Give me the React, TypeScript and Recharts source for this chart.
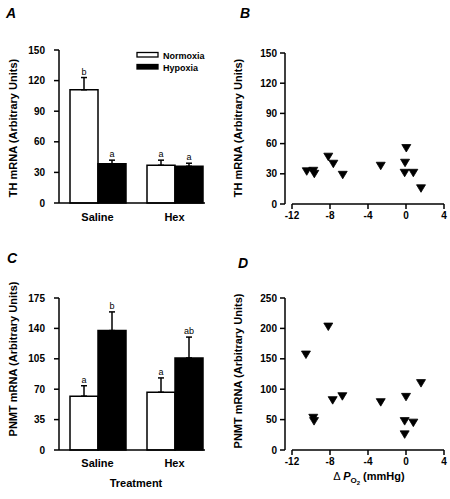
import React from 'react';
import {
  BarChart, Bar, XAxis, YAxis, ErrorBar, LabelList, Legend,
  ScatterChart, Scatter, ReferenceLine, Customized, Label,
} from 'recharts';

// ---------- data ----------
const treatments = ['Saline', 'Hex'];
const seriesNames = ['Normoxia', 'Hypoxia'];

const thNormoxia = [111, 37];
const thNormoxiaErr = [12, 5];
const thNormoxiaSig = ['b', 'a'];
const thHypoxia = [38.5, 36];
const thHypoxiaErr = [3.5, 3];
const thHypoxiaSig = ['a', 'a'];

const pnmtNormoxia = [62, 66.5];
const pnmtNormoxiaErr = [12, 16.5];
const pnmtNormoxiaSig = ['a', 'a'];
const pnmtHypoxia = [137.5, 106];
const pnmtHypoxiaErr = [21.5, 24];
const pnmtHypoxiaSig = ['b', 'ab'];

const thDeltaPO2 = [-10.45, -9.76, -9.65, -8.18, -7.65, -6.66, -2.66, 0.03, -0.1, -0.14, 0.77, 1.58];
const thScatter = [32.5, 33, 30, 47, 40, 29, 38, 55.6, 41, 31, 31, 15.6];

const pnmtDeltaPO2 = [-10.53, -9.76, -9.68, -8.18, -7.72, -6.7, -2.66, 0.0, -0.14, 0.77, -0.14, 1.58];
const pnmtScatter = [157, 53, 47.5, 203, 82, 88.5, 78.7, 87.4, 47.5, 45, 25.7, 110];

const thTicks = [0, 30, 60, 90, 120, 150];
const pnmtTicks = [0, 35, 70, 105, 140, 175];
const pnmtScatterTicks = [0, 50, 100, 150, 200, 250];
const deltaTicks = [-12, -8, -4, 0, 4];

// ---------- tables ----------
const thData = treatments.map((t, i) => ({
  treatment: t,
  Normoxia: thNormoxia[i],
  nErr: [0, thNormoxiaErr[i]],
  nSig: thNormoxiaSig[i],
  Hypoxia: thHypoxia[i],
  hErr: [0, thHypoxiaErr[i]],
  hSig: thHypoxiaSig[i],
}));

const pnmtData = treatments.map((t, i) => ({
  treatment: t,
  Normoxia: pnmtNormoxia[i],
  nErr: [0, pnmtNormoxiaErr[i]],
  nSig: pnmtNormoxiaSig[i],
  Hypoxia: pnmtHypoxia[i],
  hErr: [0, pnmtHypoxiaErr[i]],
  hSig: pnmtHypoxiaSig[i],
}));

const thPoints = thDeltaPO2.map((x, i) => ({ x, y: thScatter[i] }));
const pnmtPoints = pnmtDeltaPO2.map((x, i) => ({ x, y: pnmtScatter[i] }));

// ---------- styling helpers ----------
const FONT = '"Liberation Sans", Arial, Helvetica, sans-serif';
const tickStyle = { fontSize: 10, fontWeight: 700, fill: '#000', fontFamily: FONT };
const catTickStyle = { fontSize: 11, fontWeight: 700, fill: '#000', fontFamily: FONT };
const axisLine = { stroke: '#000', strokeWidth: 1.5 };

const sigLabel = (vals: number[], errs: number[]) => (props: any) => {
  const { x, y, width, height, index, value } = props;
  const scale = height / vals[index];
  const ty = y - errs[index] * scale - 3;
  return (
    <text x={x + width / 2} y={ty} textAnchor="middle" fontSize={9} fill="#000" fontFamily={FONT}>
      {value}
    </text>
  );
};

const DownTriangle = (props: any) => {
  const { cx, cy } = props;
  if (cx == null || cy == null) return null;
  const pts = `${cx - 4.5},${cy - 3.5} ${cx + 4.5},${cy - 3.5} ${cx},${cy + 4}`;
  return <polygon points={pts} fill="#000" stroke="#000" strokeWidth={0.8} />;
};

const yTitle = (text: string, cy: number) => () => (
  <text
    transform={`translate(13, ${cy}) rotate(-90)`}
    textAnchor="middle"
    dominantBaseline="central"
    fontSize={11}
    fontWeight={700}
    fill="#000"
    fontFamily={FONT}
  >
    {text}
  </text>
);

const panelLetter = (letter: string, x: number, y: number) => () => (
  <text x={x} y={y} fontSize={14} fontWeight={700} fontStyle="italic" fill="#000" fontFamily={FONT}>
    {letter}
  </text>
);

const legendContent = (props: any) => {
  const payload = [...(props.payload || [])].sort(
    (a: any, b: any) => seriesNames.indexOf(a.value) - seriesNames.indexOf(b.value),
  );
  return (
    <svg width={80} height={26} style={{ display: 'block' }}>
      {payload.map((entry: any, i: number) => (
        <g key={entry.value}>
          <rect
            x={1}
            y={2.5 + i * 12}
            width={21}
            height={4.5}
            fill={entry.value === 'Normoxia' ? '#fff' : '#000'}
            stroke="#000"
            strokeWidth={1.3}
          />
          <text x={27} y={8.5 + i * 12} fontSize={9} fontWeight={700} fill="#000" fontFamily={FONT}>
            {entry.value}
          </text>
        </g>
      ))}
    </svg>
  );
};

const deltaTitle = () => (
  <text x={144} y={230} textAnchor="middle" fontSize={11} fontWeight={700} fill="#000" fontFamily={FONT}>
    <tspan fontWeight={400}>Δ </tspan>
    <tspan fontStyle="italic">P</tspan>
    <tspan fontSize={8} dy={3}>O</tspan>
    <tspan fontSize={6} dy={1.5}>2</tspan>
    <tspan dy={-4.5}> (mmHg)</tspan>
  </text>
);

const treatmentTitle = () => (
  <text x={136} y={237} textAnchor="middle" fontSize={11} fontWeight={700} fill="#000" fontFamily={FONT}>
    Treatment
  </text>
);

const panelStyle = (left: number, top: number): React.CSSProperties => ({
  position: 'absolute',
  left,
  top,
});

export default function App() {
  return (
    <div style={{ position: 'absolute', left: 0, top: 0, width: 450, height: 499, background: '#fff', fontFamily: FONT }}>
      {/* Panel A */}
      <div style={panelStyle(0, 0)}>
        <BarChart
          width={225}
          height={250}
          data={thData}
          margin={{ top: 50, right: 20, bottom: 17, left: 0 }}
          barCategoryGap={11}
          barGap={0}
        >
          <XAxis
            dataKey="treatment"
            height={30}
            tickLine={false}
            axisLine={axisLine}
            tick={catTickStyle}
            tickMargin={4}
            padding={{ left: 0, right: -8 }}
          />
          <YAxis
            width={59}
            domain={[0, 150]}
            ticks={thTicks}
            tickSize={5}
            tickMargin={9}
            axisLine={axisLine}
            tickLine={axisLine}
            tick={tickStyle}
            interval={0}
          >
            <Label content={yTitle('TH mRNA (Arbitrary Units)', 128)} />
          </YAxis>
          <Legend
            layout="vertical"
            align="center"
            verticalAlign="middle"
            content={legendContent}
            wrapperStyle={{ left: 136, top: 50, width: 80, height: 26 }}
          />
          <Bar dataKey="Normoxia" fill="#fff" stroke="#000" strokeWidth={1.5} isAnimationActive={false}>
            <ErrorBar dataKey="nErr" width={3} stroke="#000" strokeWidth={1.5} />
            <LabelList dataKey="nSig" content={sigLabel(thNormoxia, thNormoxiaErr)} />
          </Bar>
          <Bar dataKey="Hypoxia" fill="#000" stroke="#000" strokeWidth={1.5} isAnimationActive={false}>
            <ErrorBar dataKey="hErr" width={3} stroke="#000" strokeWidth={1.5} />
            <LabelList dataKey="hSig" content={sigLabel(thHypoxia, thHypoxiaErr)} />
          </Bar>
          <Customized component={panelLetter('A', 6, 18)} />
        </BarChart>
      </div>

      {/* Panel B */}
      <div style={panelStyle(225, 0)}>
        <ScatterChart width={225} height={250} margin={{ top: 53, right: 6, bottom: 16, left: 0 }}>
          <XAxis
            type="number"
            dataKey="x"
            domain={[-12, 4]}
            ticks={deltaTicks}
            interval={0}
            height={30}
            axisLine={false}
            tickLine={axisLine}
            tickSize={5}
            tickMargin={3}
            tick={tickStyle}
            padding={{ left: 7, right: 0 }}
          />
          <YAxis
            type="number"
            dataKey="y"
            width={60}
            domain={[0, 150]}
            ticks={thTicks}
            interval={0}
            tickSize={5}
            tickMargin={3}
            axisLine={axisLine}
            tickLine={axisLine}
            tick={tickStyle}
          >
            <Label content={yTitle('TH mRNA (Arbitrary Units)', 128)} />
          </YAxis>
          <ReferenceLine segment={[{ x: -12, y: 0 }, { x: 4, y: 0 }]} stroke="#000" strokeWidth={1.5} />
          <Scatter data={thPoints} shape={DownTriangle} isAnimationActive={false} />
          <Customized component={panelLetter('B', 15, 18)} />
        </ScatterChart>
      </div>

      {/* Panel C */}
      <div style={panelStyle(0, 250)}>
        <BarChart
          width={225}
          height={249}
          data={pnmtData}
          margin={{ top: 48, right: 20, bottom: 19, left: 0 }}
          barCategoryGap={11}
          barGap={0}
        >
          <XAxis
            dataKey="treatment"
            height={30}
            tickLine={false}
            axisLine={axisLine}
            tick={catTickStyle}
            tickMargin={3}
            padding={{ left: 0, right: -8 }}
          >
            <Label content={treatmentTitle} />
          </XAxis>
          <YAxis
            width={59}
            domain={[0, 175]}
            ticks={pnmtTicks}
            tickSize={5}
            tickMargin={9}
            axisLine={axisLine}
            tickLine={axisLine}
            tick={tickStyle}
            interval={0}
          >
            <Label content={yTitle('PNMT mRNA (Arbitrary Units)', 109)} />
          </YAxis>
          <Bar dataKey="Normoxia" fill="#fff" stroke="#000" strokeWidth={1.5} isAnimationActive={false}>
            <ErrorBar dataKey="nErr" width={3} stroke="#000" strokeWidth={1.5} />
            <LabelList dataKey="nSig" content={sigLabel(pnmtNormoxia, pnmtNormoxiaErr)} />
          </Bar>
          <Bar dataKey="Hypoxia" fill="#000" stroke="#000" strokeWidth={1.5} isAnimationActive={false}>
            <ErrorBar dataKey="hErr" width={3} stroke="#000" strokeWidth={1.5} />
            <LabelList dataKey="hSig" content={sigLabel(pnmtHypoxia, pnmtHypoxiaErr)} />
          </Bar>
          <Customized component={panelLetter('C', 7, 13)} />
        </BarChart>
      </div>

      {/* Panel D */}
      <div style={panelStyle(225, 250)}>
        <ScatterChart width={225} height={249} margin={{ top: 48, right: 6, bottom: 19, left: 0 }}>
          <XAxis
            type="number"
            dataKey="x"
            domain={[-12, 4]}
            ticks={deltaTicks}
            interval={0}
            height={30}
            axisLine={false}
            tickLine={axisLine}
            tickSize={5}
            tickMargin={3}
            tick={tickStyle}
            padding={{ left: 7, right: 0 }}
          >
            <Label content={deltaTitle} />
          </XAxis>
          <YAxis
            type="number"
            dataKey="y"
            width={60}
            domain={[0, 250]}
            ticks={pnmtScatterTicks}
            interval={0}
            tickSize={5}
            tickMargin={3}
            axisLine={axisLine}
            tickLine={axisLine}
            tick={tickStyle}
          >
            <Label content={yTitle('PNMT mRNA (Arbitrary Units)', 121)} />
          </YAxis>
          <ReferenceLine segment={[{ x: -12, y: 0 }, { x: 4, y: 0 }]} stroke="#000" strokeWidth={1.5} />
          <Scatter data={pnmtPoints} shape={DownTriangle} isAnimationActive={false} />
          <Customized component={panelLetter('D', 13, 18)} />
        </ScatterChart>
      </div>
    </div>
  );
}
